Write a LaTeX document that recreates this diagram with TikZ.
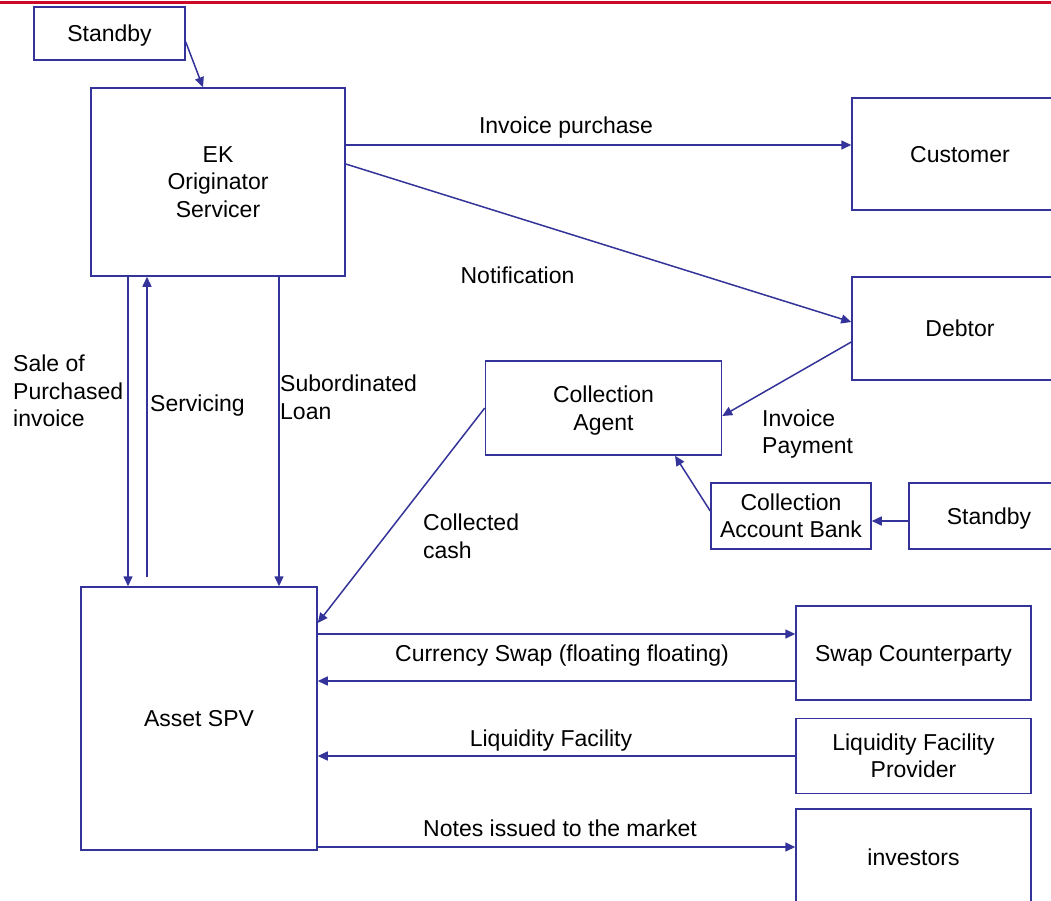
\documentclass[tikz,border=0pt]{standalone}
\usepackage{fontspec}
\setmainfont{Liberation Sans}
\usetikzlibrary{arrows.meta}
\definecolor{ln}{RGB}{51,51,153}
\definecolor{rd}{RGB}{204,10,40}
\newcommand\diagfont{\fontsize{23}{27.5}\selectfont}
\begin{document}
\begin{tikzpicture}[x=1pt,y=-1pt,
  box/.style={draw=ln, line width=1.5pt, inner sep=0pt, align=center, font=\diagfont},
  lbl/.style={inner sep=0pt, font=\diagfont},
  sl/.style={text height=16.5pt, text depth=0pt},
  con/.style={draw=ln, line width=1.5pt, -{Triangle[length=10pt,width=9pt]}}]
\useasboundingbox (0,0) rectangle (1051,900);
\clip (0,0) rectangle (1051,900);
\draw[rd, line width=3pt] (0,2.5) -- (1051,2.5);

% boxes
\node[box, sl, minimum width=151pt, minimum height=53pt] (sb1) at (109.5,33.5) {Standby};
\node[box, minimum width=254pt, minimum height=188pt] (ek) at (218,182) {EK\\Originator\\Servicer};
\node[box, sl, minimum width=216pt, minimum height=112pt] (cust) at (960,154) {Customer};
\node[box, sl, minimum width=216pt, minimum height=103pt] (debt) at (960,328.5) {Debtor};
\node[box, minimum width=236pt, minimum height=94pt] (ca) at (603.5,408) {Collection\\\smash{Agent}};
\node[box, minimum width=160pt, minimum height=66pt] (cab) at (791,516) {Collection\\Account Bank};
\node[box, sl, minimum width=160pt, minimum height=66pt] (sb2) at (989,516) {Standby};
\node[box, sl, minimum width=236pt, minimum height=263pt] (spv) at (199,718.5) {Asset SPV};
\node[box, sl, minimum width=235pt, minimum height=94pt] (swap) at (913.5,653) {Swap Counterparty};
\node[box, minimum width=235pt, minimum height=75pt] (lfp) at (913.5,756) {Liquidity Facility\\Provider};
\node[box, sl, minimum width=235pt, minimum height=96pt] (inv) at (913.5,857) {investors};

% connectors
\draw[con] (sb1.east |- 0,42) -- (ek.north -| 203,0);
\draw[con] (ek.east |- 0,145) -- (cust.west |- 0,145);
\draw[con] (ek.east |- 0,164) -- (debt.west |- 0,322);
\draw[con] (debt.west |- 0,342) -- (ca.east |- 0,416);
\draw[con] (cab.west |- 0,511) -- (ca.south -| 675,0);
\draw[con] (sb2.west |- 0,521) -- (cab.east |- 0,521);
\draw[con] (ca.west |- 0,408) -- (spv.east |- 0,623);
\draw[con] (ek.south -| 128,0) -- (spv.north -| 128,0);
\coordinate (sv) at (147,577);
\draw[con] (sv) -- (ek.south -| sv);
\draw[con] (ek.south -| 279,0) -- (spv.north -| 279,0);
\draw[con] (spv.east |- 0,634) -- (swap.west |- 0,634);
\draw[con] (swap.west |- 0,681) -- (spv.east |- 0,681);
\draw[con] (lfp.west) -- (spv.east |- lfp.west);
\draw[con] (spv.east |- 0,847) -- (inv.west |- 0,847);

% labels
\node[lbl, anchor=west, align=left] (lsale) at (13,391) {Sale of\\Purchased\\invoice};
\node[lbl, sl, anchor=west] (lserv) at (150,403) {Servicing};
\node[lbl, anchor=west, align=left] (lsub) at (280,397.5) {Subordinated\\Loan};
\node[lbl, sl] (lip) at (566,125) {Invoice purchase};
\node[lbl, sl] (lnot) at (517.5,275) {Notification};
\node[lbl, anchor=west, align=left] (lpay) at (762,431.5) {Invoice\\\smash{Payment}};
\node[lbl, anchor=west, align=left] (lcash) at (423,536.5) {Collected\\cash};
\node[lbl, sl] (lswap) at (562,653) {Currency Swap (floating floating)};
\node[lbl, sl] (lliq) at (551,738) {Liquidity Facility};
\node[lbl, sl] (lnotes) at (560,828) {Notes issued to the market};
\end{tikzpicture}
\end{document}
